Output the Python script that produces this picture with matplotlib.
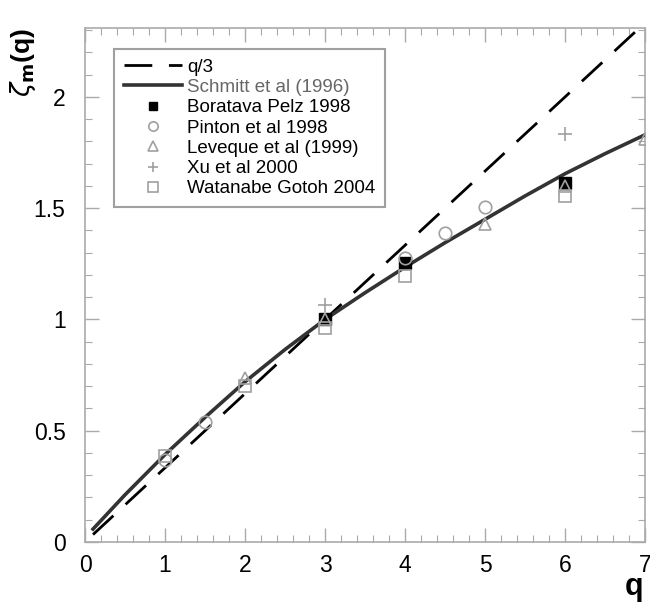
import numpy as np
import matplotlib
matplotlib.use("Agg")
import matplotlib.pyplot as plt
import matplotlib.transforms as mtransforms
from matplotlib.ticker import MultipleLocator

plt.rcParams["font.family"] = ["Liberation Sans", "DejaVu Sans"]

# Schmitt et al (1996) model curve
q_model = [0.1, 0.5, 1.0, 1.5, 2.0, 2.5, 3.0, 3.5, 4.0, 4.5, 5.0, 5.5, 6.0, 6.5, 7.0]
zeta_model = [0.058, 0.212, 0.393, 0.56, 0.72, 0.865, 1.0, 1.12, 1.235, 1.345,
              1.45, 1.555, 1.655, 1.745, 1.83]

# q/3 reference line
q_lin = [0.1, 7.0]

# experimental / DNS points
q_bp = [3, 4, 6]
z_bp = [1.0, 1.255, 1.615]

q_pinton = [1, 1.5, 4, 4.5, 5]
z_pinton = [0.37, 0.54, 1.275, 1.39, 1.505]

q_lev = [2, 3, 5, 6, 7]
z_lev = [0.737, 1.0, 1.43, 1.6, 1.81]

q_xu = [3, 6]
z_xu = [1.065, 1.835]

q_wg = [1, 2, 3, 4, 6]
z_wg = [0.385, 0.70, 0.96, 1.195, 1.555]

fig = plt.figure(figsize=(6.5, 6.14), dpi=100)
ax = fig.add_axes([0.1308, 0.1173, 0.8615, 0.8371])

ax.plot(q_lin, [v / 3 for v in q_lin], color="black", lw=2.0,
        dashes=(10, 6), label="q/3", zorder=3)
ax.plot(q_model, zeta_model, color="#333333", lw=2.6,
        label="Schmitt et al (1996)", zorder=3)

grey = "#a0a0a0"
ax.plot(q_bp, z_bp, ls="none", marker="s", ms=8, mfc="black", mec="black",
        label="Boratava Pelz 1998", zorder=4)
ax.plot(q_pinton, z_pinton, ls="none", marker="o", ms=9, mfc="none", mec=grey,
        mew=1.2, label="Pinton et al 1998", zorder=4)
ax.plot(q_lev, z_lev, ls="none", marker="^", ms=9, mfc="none", mec=grey,
        mew=1.2, label="Leveque et al (1999)", zorder=4)
ax.plot(q_xu, z_xu, ls="none", marker="+", ms=10, mec=grey,
        mew=1.2, label="Xu et al 2000", zorder=4)
ax.plot(q_wg, z_wg, ls="none", marker="s", ms=9, mfc="none", mec=grey,
        mew=1.2, label="Watanabe Gotoh 2004", zorder=4)

ax.set_xlim(0, 7)
ax.set_ylim(0, 2.31)
ax.xaxis.set_major_locator(MultipleLocator(1))
ax.xaxis.set_minor_locator(MultipleLocator(0.2))
ax.yaxis.set_major_locator(MultipleLocator(0.5))
ax.yaxis.set_minor_locator(MultipleLocator(0.1))
ax.yaxis.set_major_formatter(plt.FuncFormatter(lambda v, p: f"{v:g}"))

for s in ax.spines.values():
    s.set_color("#aaaaaa")
    s.set_linewidth(1.2)
ax.tick_params(which="both", direction="in", top=True, right=True,
               color="#aaaaaa", labelsize=16.5)
ax.tick_params(which="major", length=10, width=1.0)
ax.tick_params(axis="y", which="major", pad=14)
ax.tick_params(axis="x", which="major", pad=9)
ax.tick_params(which="minor", length=5, width=0.8)

# keep the last x label ("7") inside the canvas
fig.canvas.draw()
last = ax.get_xticklabels()[-1]
last.set_transform(last.get_transform() +
                   mtransforms.ScaledTranslation(-5 / 100, 0, fig.dpi_scale_trans))

leg = ax.legend(loc="upper left", bbox_to_anchor=(0.052, 0.959), fontsize=13.5,
                frameon=True, fancybox=False, handlelength=3.1,
                handletextpad=0.3, labelspacing=0.17, borderpad=0.5,
                borderaxespad=0, markerscale=0.75)
leg.get_frame().set_edgecolor("#888888")
leg.get_frame().set_linewidth(1.5)
leg.get_texts()[1].set_color("#666666")

fig.text(0.035, 0.955, r"$\zeta$$_\mathbf{m}$(q)", rotation=90, fontsize=19,
         fontweight="bold", ha="center", va="top")
fig.text(0.975, 0.02, "q", fontsize=22, fontweight="bold", ha="center",
         va="bottom")

fig.savefig("out.png", dpi=100)
